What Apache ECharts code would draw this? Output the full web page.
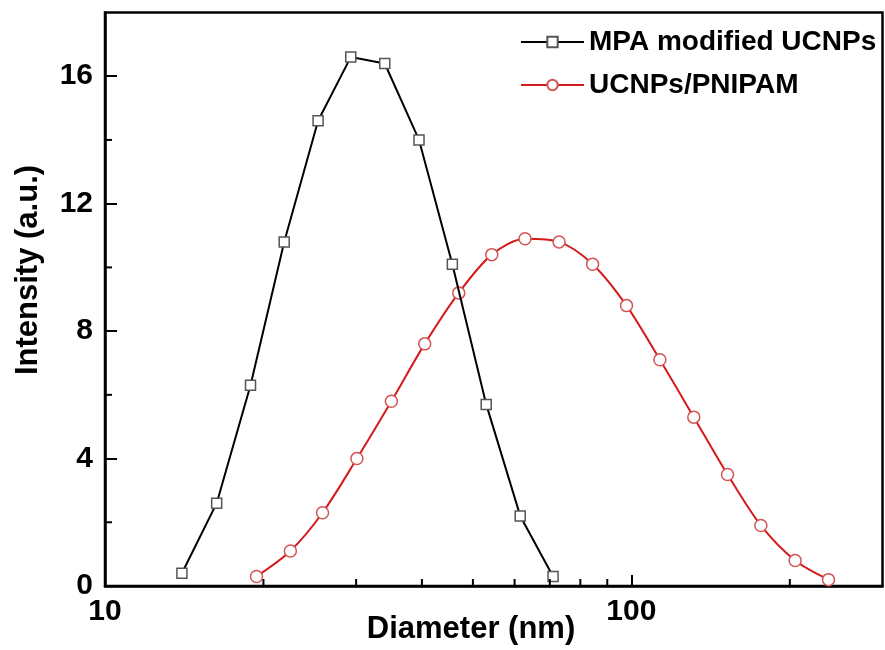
<!DOCTYPE html>
<html>
<head>
<meta charset="utf-8">
<script src="https://cdn.jsdelivr.net/npm/echarts@6/dist/echarts.min.js"></script>
<style>
	* {
		margin: 0;
		padding: 0;
	}

	.chart {
		width: 885px;
		height: 650px;
	}
</style>
</head>
<body>
<div id="sizeChart" class="chart"></div>
<script>
	// diameter (nm) / intensity (a.u.)
	var mpaDiameter = [14.0, 16.3, 18.9, 21.9, 25.4, 29.3, 34.0, 39.5, 45.7, 53.0, 61.5, 71.0]
	var mpaIntensity = [0.4, 2.6, 6.3, 10.8, 14.6, 16.6, 16.4, 14.0, 10.1, 5.7, 2.2, 0.3]
	var pnDiameter = [19.4, 22.5, 25.9, 30.1, 35.0, 40.5, 47.0, 54.3, 62.8, 72.9, 84.4, 97.9, 113.3, 131.4, 152.3, 176.2, 204.7, 236.9]
	var pnIntensity = [0.3, 1.1, 2.3, 4.0, 5.8, 7.6, 9.2, 10.4, 10.9, 10.8, 10.1, 8.8, 7.1, 5.3, 3.5, 1.9, 0.8, 0.2]
	var seriesNames = ['MPA modified UCNPs', 'UCNPs/PNIPAM']
	var minorTicksX = [20, 30, 40, 50, 60, 70, 80, 90, 200]
	var minorTicksY = [2, 6, 10, 14]

	var font = 'Liberation Sans, Arial, sans-serif'

	function pairs(xs, ys) {
		return xs.map(function(x, i) {
			return [x, ys[i]]
		})
	}

	// short inside tick drawn at a data point
	function tickMark(dx, dy) {
		return function(params, api) {
			var p = api.coord([api.value(0), api.value(1)])
			return {
				type: 'line',
				shape: { x1: p[0], y1: p[1], x2: p[0] + dx, y2: p[1] + dy },
				style: { stroke: '#000', lineWidth: 2 }
			}
		}
	}

	var charts = echarts.init(document.getElementById('sizeChart'))
	charts.setOption({
		animation: false,
		backgroundColor: '#fff',
		grid: {
			left: 105,
			right: 2.5,
			top: 12.5,
			bottom: 64,
			show: true,
			borderColor: '#000',
			borderWidth: 2.5
		},
		legend: {
			data: seriesNames,
			orient: 'vertical',
			left: 515,
			top: 22,
			itemWidth: 63,
			itemHeight: 13,
			itemGap: 13,
			textStyle: {
				fontFamily: font,
				fontWeight: 'bold',
				fontSize: 28,
				lineHeight: 30,
				color: '#000',
				padding: [0, 0, 0, 0]
			}
		},
		xAxis: {
			type: 'log',
			logBase: 10,
			min: 10,
			max: 300,
			axisLine: { lineStyle: { color: '#000', width: 2.5 } },
			axisTick: { inside: true, length: 11, lineStyle: { color: '#000', width: 2 } },
			axisLabel: {
				margin: 11,
				showMaxLabel: false,
				fontFamily: font,
				fontWeight: 'bold',
				fontSize: 30,
				color: '#000'
			},
			splitLine: { show: false }
		},
		yAxis: {
			type: 'value',
			min: 0,
			max: 18,
			interval: 4,
			axisLine: { lineStyle: { color: '#000', width: 2.5 } },
			axisTick: { inside: true, length: 12, lineStyle: { color: '#000', width: 2 } },
			axisLabel: {
				margin: 12,
				showMaxLabel: false,
				fontFamily: font,
				fontWeight: 'bold',
				fontSize: 30,
				color: '#000'
			},
			splitLine: { show: false }
		},
		graphic: [{
				type: 'text',
				x: 28,
				y: 270,
				rotation: Math.PI / 2,
				style: {
					text: 'Intensity (a.u.)',
					font: 'bold 31px ' + font,
					fill: '#000',
					align: 'center',
					verticalAlign: 'middle'
				}
			},
			{
				type: 'text',
				x: 471,
				y: 629,
				style: {
					text: 'Diameter (nm)',
					font: 'bold 31px ' + font,
					fill: '#000',
					align: 'center',
					verticalAlign: 'middle'
				}
			}
		],
		series: [{
				name: seriesNames[0],
				type: 'line',
				data: pairs(mpaDiameter, mpaIntensity),
				symbol: 'rect',
				symbolSize: 10,
				showAllSymbol: true,
				lineStyle: { color: '#000', width: 2 },
				itemStyle: { color: '#fff', borderColor: '#555', borderWidth: 1.5 },
				z: 3
			},
			{
				name: seriesNames[1],
				type: 'line',
				data: pairs(pnDiameter, pnIntensity),
				smooth: 0.3,
				symbol: 'circle',
				symbolSize: 12,
				showAllSymbol: true,
				lineStyle: { color: '#d41a1a', width: 2 },
				itemStyle: { color: '#fff', borderColor: '#d25555', borderWidth: 1.5 },
				z: 2
			},
			{
				type: 'custom',
				silent: true,
				clip: false,
				data: minorTicksX.map(function(v) { return [v, 0] }),
				renderItem: tickMark(0, -7),
				z: 4
			},
			{
				type: 'custom',
				silent: true,
				clip: false,
				data: minorTicksY.map(function(v) { return [10, v] }),
				renderItem: tickMark(7, 0),
				z: 4
			}
		]
	})
</script>
</body>
</html>
